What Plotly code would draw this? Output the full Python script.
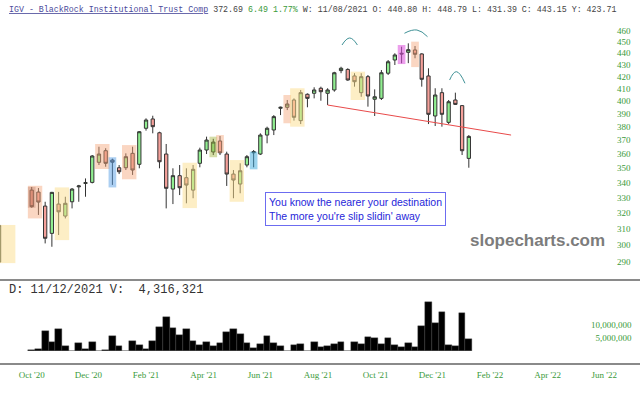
import pandas as pd
import numpy as np
import plotly.graph_objects as go

# ---------------- data ----------------
week_dates = list(pd.date_range("2020-10-12", periods=66, freq="7D").strftime("%Y-%m-%d"))

opens = [334.8, 333.5, 324.3, 307.1, 325.6, 317.9, 327.1, 337.0, 339.3, 340.0,
         353.9, 362.2, 355.5, 350.1, 350.1, 360.3, 352.5, 378.8, 385.9, 375.4,
         359.8, 335.5, 344.6, 343.2, 334.8, 353.2, 362.7, 361.3, 369.3, 359.8,
         345.7, 338.9, 352.0, 360.7, 359.8, 373.7, 377.5, 394.2, 395.0, 400.8,
         384.6, 405.4, 406.2, 410.3, 406.2, 408.9, 425.0, 426.0, 420.5, 406.7,
         419.9, 401.4, 402.1, 422.8, 434.1, 440.0, 440.80, 442.9, 439.4, 420.5,
         388.2, 406.7, 383.3, 400.8, 396.3, 356.7]
highs = [336.9, 336.2, 327.1, 333.6, 333.6, 330.4, 336.2, 338.3, 342.7, 359.1,
         365.1, 364.0, 356.5, 352.0, 360.3, 365.1, 376.7, 386.4, 388.4, 376.2,
         367.1, 349.7, 352.0, 349.7, 352.0, 364.4, 372.5, 370.9, 373.0, 361.5,
         348.5, 353.2, 359.1, 362.7, 375.0, 380.0, 388.9, 395.5, 400.8, 402.1,
         408.9, 406.1, 411.1, 411.6, 410.3, 424.0, 428.3, 427.0, 422.8, 422.8,
         421.3, 409.4, 425.5, 434.1, 440.0, 445.8, 448.79, 446.4, 440.0, 427.0,
         410.3, 410.3, 400.8, 406.7, 396.8, 373.7]
lows = [323.2, 318.6, 301.0, 299.0, 306.1, 316.4, 322.8, 327.1, 330.4, 339.3,
        352.0, 350.8, 338.3, 345.7, 348.5, 345.1, 349.7, 377.0, 375.0, 349.7,
        322.8, 325.6, 331.5, 326.1, 329.4, 350.4, 359.8, 359.1, 359.1, 337.6,
        329.4, 332.7, 350.4, 350.4, 359.1, 367.6, 373.7, 388.9, 392.8, 384.6,
        382.0, 395.0, 402.1, 400.2, 396.8, 407.5, 422.8, 416.5, 411.6, 403.4,
        395.5, 388.2, 400.8, 421.3, 429.8, 431.3, 431.39, 435.6, 411.6, 382.0,
        380.5, 380.0, 382.0, 396.8, 359.1, 350.1]
closes = [323.9, 326.9, 304.1, 333.3, 320.6, 326.1, 335.5, 337.6, 339.8, 358.4,
          359.8, 353.2, 354.0, 347.3, 357.9, 348.5, 376.2, 385.1, 380.0, 354.3,
          336.0, 344.6, 336.4, 338.2, 349.0, 362.7, 370.0, 368.5, 360.7, 345.7,
          341.6, 348.0, 357.9, 361.5, 373.7, 378.8, 387.7, 395.0, 397.6, 387.2,
          406.7, 402.1, 408.9, 407.5, 408.9, 423.2, 427.0, 417.1, 415.7, 419.9,
          404.0, 403.4, 423.2, 432.6, 438.5, 439.4, 443.15, 439.1, 417.7, 389.5,
          404.8, 389.5, 399.4, 397.3, 362.2, 372.69]

# partial candle at the far left edge
lead_date = ["2020-09-08"]
lead_open, lead_high, lead_low, lead_close = [290.0], [313.0], [289.0], [312.0]

# weekly volume, millions
volume_m = [0.3, 0.6, 7.7, 3.6, 8.3, 1.9, 0.0, 3.2, 0.8, 3.3,
            0.0, 0.3, 5.9, 1.9, 0.0, 3.7, 2.3, 0.8, 3.7, 9.2,
            13.2, 8.7, 6.0, 8.5, 3.7, 2.4, 3.5, 1.8, 3.2, 7.4,
            8.3, 6.5, 2.9, 1.3, 2.8, 5.6, 3.1, 2.1, 0.0, 2.3,
            2.7, 0.0, 3.6, 1.7, 2.1, 2.8, 3.6, 0.0, 3.3, 2.7,
            5.4, 5.1, 2.7, 5.1, 2.3, 1.5, 3.2, 1.7, 9.5, 18.7,
            10.6, 14.9, 2.3, 1.9, 14.6, 4.7]

price_ticks = list(range(290, 461, 10))
vol_ticks = [5_000_000, 10_000_000]
vol_tick_text = ["\u00a0\u00a05,000,000", "10,000,000"]
x_tick_labels = ["Oct '20", "Dec '20", "Feb '21", "Apr '21", "Jun '21", "Aug '21",
                 "Oct '21", "Dec '21", "Feb '22", "Apr '22", "Jun '22"]

# highlight boxes: (first candle idx, last candle idx, low, high, colour)
boxes = [
    (0, 1, 316.4, 337.7, "rgba(245,165,120,0.45)"),
    (0, 0, 323.2, 337.0, "rgba(170,100,80,0.30)"),
    (4, 5, 303.0, 336.6, "rgba(252,222,140,0.50)"),
    (10, 11, 349.2, 367.1, "rgba(245,165,120,0.45)"),
    (12, 12, 336.6, 357.5, "rgba(90,160,230,0.50)"),
    (14, 15, 342.1, 366.3, "rgba(245,165,120,0.45)"),
    (23, 24, 323.0, 353.6, "rgba(252,222,140,0.50)"),
    (27, 27, 357.5, 372.5, "rgba(160,180,60,0.45)"),
    (28, 28, 360.7, 373.7, "rgba(245,165,120,0.45)"),
    (30, 31, 327.1, 355.5, "rgba(252,222,140,0.50)"),
    (33, 33, 349.0, 361.5, "rgba(60,170,220,0.50)"),
    (38, 38, 382.6, 404.8, "rgba(245,165,120,0.45)"),
    (39, 40, 380.0, 410.3, "rgba(252,222,140,0.50)"),
    (48, 49, 400.8, 424.1, "rgba(252,222,140,0.50)"),
    (55, 55, 430.6, 447.3, "rgba(220,80,220,0.55)"),
    (57, 57, 428.0, 450.3, "rgba(245,165,120,0.45)"),
]
lead_box = (["2020-09-09", "2020-09-25"], [289.4, 312.3], "rgba(252,222,140,0.50)")

# trend line
trend_dates = ["2021-08-16", "2022-02-23"]
trend_prices = [396.8, 373.7]

# arcs (left, peak, right)
arcs = [
    (["2021-08-31", "2021-09-08", "2021-09-16"], [447.3, 453.6, 447.3]),
    (["2021-11-04", "2021-11-17", "2021-11-28"], [457.9, 460.9, 454.8]),
    (["2021-12-21", "2021-12-28", "2022-01-06"], [417.1, 424.1, 414.4]),
]

# ---------------- layout constants ----------------
W, H = 640, 395
R_MARGIN = 24
PLOT_W = W - R_MARGIN
anchor = pd.Timestamp("2021-11-08")
anchor_px = 408.3
px_per_day = 0.9607
x_start = anchor - pd.Timedelta(days=anchor_px / px_per_day)
x_end = anchor + pd.Timedelta(days=(PLOT_W - anchor_px) / px_per_day)

def px_to_date(px):
    return (anchor + pd.Timedelta(days=(px - anchor_px) / px_per_day)).strftime("%Y-%m-%d")

# month labels are evenly spaced along the bottom axis
x_tick_dates = [px_to_date(32 + 57.3 * k) for k in range(len(x_tick_labels))]

def py(px):
    return 1 - px / H

GREEN = "#3a9a3a"
tick_font = dict(family="Liberation Serif, Times New Roman, serif", size=9, color=GREEN)

fig = go.Figure()

fig.add_trace(go.Candlestick(
    x=lead_date + week_dates,
    open=lead_open + opens, high=lead_high + highs,
    low=lead_low + lows, close=lead_close + closes,
    increasing=dict(fillcolor="#90ee90", line=dict(color="#333333", width=1)),
    decreasing=dict(fillcolor="#f5a09a", line=dict(color="#333333", width=1)),
    whiskerwidth=0, showlegend=False, xaxis="x", yaxis="y",
))

day = pd.Timedelta(days=4)
for i0, i1, lo, hi, col in boxes:
    xa = (pd.Timestamp(week_dates[i0]) - day).strftime("%Y-%m-%d")
    xb = (pd.Timestamp(week_dates[i1]) + day).strftime("%Y-%m-%d")
    fig.add_trace(go.Scatter(x=[xa, xb, xb, xa, xa], y=[lo, lo, hi, hi, lo],
                             fill="toself", fillcolor=col, mode="lines",
                             line=dict(width=0), hoverinfo="skip", showlegend=False,
                             xaxis="x", yaxis="y"))
(lx, lp, lcol) = lead_box
fig.add_trace(go.Scatter(x=[lx[0], lx[1], lx[1], lx[0], lx[0]],
                         y=[lp[0], lp[0], lp[1], lp[1], lp[0]],
                         fill="toself", fillcolor=lcol, mode="lines",
                         line=dict(width=0), hoverinfo="skip", showlegend=False,
                         xaxis="x", yaxis="y"))

fig.add_trace(go.Scatter(x=trend_dates, y=trend_prices, mode="lines",
                         line=dict(color="#e84a4a", width=1), hoverinfo="skip",
                         showlegend=False, xaxis="x", yaxis="y"))
for ad, ap in arcs:
    fig.add_trace(go.Scatter(x=ad, y=ap, mode="lines",
                             line=dict(color="#3f9196", width=1, shape="spline", smoothing=1.3),
                             hoverinfo="skip", showlegend=False, xaxis="x", yaxis="y"))

fig.add_trace(go.Bar(x=week_dates, y=[v * 1e6 for v in volume_m],
                     marker=dict(color="#000000", line=dict(width=0.4, color="#444444")),
                     showlegend=False, xaxis="x2", yaxis="y2"))

header = (
    "<u>IGV - BlackRock Institutional Trust Comp</u> "
    f"<span style='color:#444444'>{closes[-1]:.2f}</span> "
    "<span style='color:#3a9a3a'>6.49 1.77%</span> "
    f"<span style='color:#444444'>W: 11/08/2021 O: {opens[56]:.2f} H: {highs[56]:.2f} "
    f"L: {lows[56]:.2f} C: {closes[56]:.2f} Y: 423.71</span>"
)

fig.update_layout(
    width=W, height=H,
    margin=dict(l=0, r=R_MARGIN, t=0, b=0),
    paper_bgcolor="white", plot_bgcolor="white",
    bargap=0, hovermode=False,
    xaxis=dict(domain=[0, 1], type="date", range=[x_start, x_end],
               showticklabels=False, showgrid=False, zeroline=False,
               rangeslider=dict(visible=False), anchor="y"),
    yaxis=dict(domain=[py(280), py(20)], type="log",
               range=[np.log10(279.8), np.log10(470.2)],
               side="right", tickmode="array", tickvals=price_ticks,
               ticktext=[str(v) for v in price_ticks], ticks="",
               tickfont=tick_font, showgrid=False, zeroline=False, anchor="x"),
    xaxis2=dict(domain=[0, 1], type="date", matches="x", anchor="free",
                position=py(368), tickmode="array", tickvals=x_tick_dates,
                ticktext=x_tick_labels, ticks="", tickfont=tick_font,
                showgrid=False, zeroline=False, showline=False),
    yaxis2=dict(domain=[py(351), py(300)], range=[0, 19.6e6],
                side="right", anchor="free", position=590 / PLOT_W,
                tickmode="array", tickvals=vol_ticks, ticktext=vol_tick_text,
                ticks="", tickfont=tick_font,
                showgrid=False, zeroline=False, showline=False),
    shapes=[
        dict(type="line", xref="paper", yref="paper", x0=0, x1=W / PLOT_W,
             y0=py(280), y1=py(280), line=dict(color="#8a8a8a", width=2)),
        dict(type="line", xref="paper", yref="paper", x0=0, x1=W / PLOT_W,
             y0=py(364), y1=py(364), line=dict(color="#8a8a8a", width=2)),
    ],
    annotations=[
        dict(xref="paper", yref="paper", x=7 / PLOT_W, y=py(9), xanchor="left",
             yanchor="middle", showarrow=False, text=header,
             font=dict(family="Liberation Mono, Courier New, monospace", size=8.3,
                       color="#4b4b9b")),
        dict(xref="paper", yref="paper", x=7 / PLOT_W, y=py(290), xanchor="left",
             yanchor="middle", showarrow=False,
             text="D: 11/12/2021 V:\u00a0\u00a04,316,321",
             font=dict(family="Liberation Mono, Courier New, monospace", size=12,
                       color="#333333")),
        dict(xref="paper", yref="paper", x=265 / PLOT_W, y=py(192), xanchor="left",
             yanchor="top", showarrow=False, align="left",
             text="You know the nearer your destination<br>The more you're slip slidin' away",
             font=dict(family="Liberation Sans, Arial, sans-serif", size=10.5,
                       color="#2626d9"),
             bordercolor="#6c6cf0", borderwidth=1, borderpad=3, bgcolor="white"),
        dict(xref="paper", yref="paper", x=537 / PLOT_W, y=py(240), xanchor="center",
             yanchor="middle", showarrow=False, text="<b>slopecharts.com</b>",
             font=dict(family="Liberation Sans, Arial, sans-serif", size=17,
                       color="#7c7c7c")),
    ],
)

fig.write_html(
    "out.html",
    config={"displayModeBar": False},
    post_script="document.body.style.margin='0px';document.body.style.overflow='hidden';",
)
